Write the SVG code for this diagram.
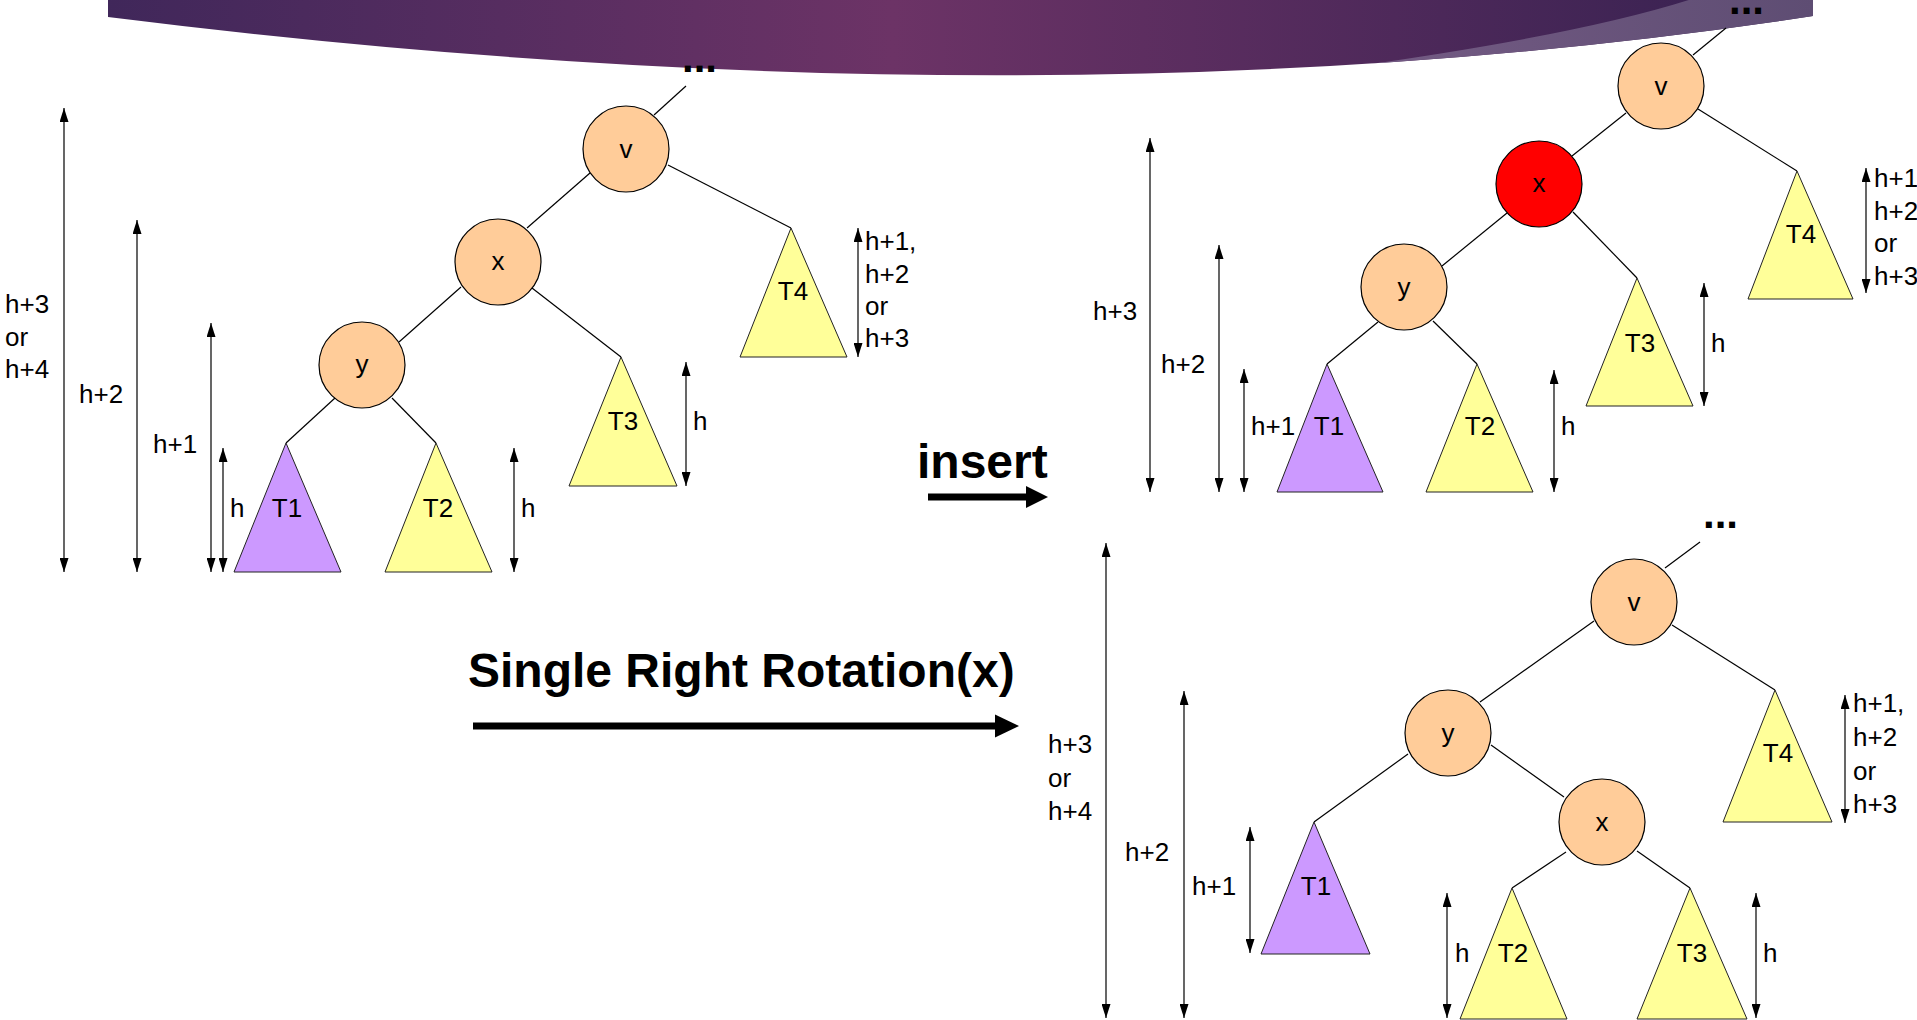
<svg xmlns="http://www.w3.org/2000/svg" width="1917" height="1020" viewBox="0 0 1917 1020">
<defs>
<linearGradient id="bandG" gradientUnits="userSpaceOnUse" x1="108" y1="0" x2="1813" y2="0">
<stop offset="0" stop-color="#40275A"/>
<stop offset="0.46" stop-color="#6C3366"/>
<stop offset="0.93" stop-color="#3C2353"/>
<stop offset="1" stop-color="#3C2353"/>
</linearGradient>
<linearGradient id="lightG" gradientUnits="userSpaceOnUse" x1="1370" y1="0" x2="1813" y2="0">
<stop offset="0" stop-color="#745B84"/>
<stop offset="1" stop-color="#5E4D73"/>
</linearGradient>
<clipPath id="bandClip"><path d="M108,0 L108,17 Q1040,134 1813,16 L1813,0 Z"/></clipPath>
<marker id="ah" viewBox="0 0 14 9" refX="14" refY="4.5" markerWidth="14" markerHeight="9" markerUnits="userSpaceOnUse" orient="auto-start-reverse"><path d="M0,0 L14,4.5 L0,9 Z" fill="#000"/></marker>
</defs>
<style>
.lbl{font-family:"Liberation Sans",Arial,sans-serif;font-size:26px;fill:#000}
.mid{text-anchor:middle}
.big{font-family:"Liberation Sans",Arial,sans-serif;font-size:48px;font-weight:bold;fill:#000}
.dots{font-family:"Liberation Sans",Arial,sans-serif;font-size:42px;font-weight:bold;fill:#000}
.edge{stroke:#000;stroke-width:1.2;fill:none}
.dim{stroke:#000;stroke-width:1.2;fill:none;marker-start:url(#ah);marker-end:url(#ah)}
.node{fill:#FFCC99;stroke:#000;stroke-width:1.2}
.red{fill:#FF0000;stroke:#000;stroke-width:1.2}
.tri{fill:#FFFF99;stroke:#222;stroke-width:1}
.triP{fill:#CC99FF;stroke:#222;stroke-width:1}
</style>

<g id="banner">
<path d="M108,0 L108,17 Q1040,134 1813,16 L1813,0 Z" fill="url(#bandG)"/>
<path clip-path="url(#bandClip)" d="M1250,80 Q1560,42 1695,-2 L1830,-2 L1830,90 Z" fill="url(#lightG)"/>
</g>

<g id="connectors">
<!-- left tree -->
<line class="edge" x1="686" y1="86" x2="654" y2="115"/>
<line class="edge" x1="590" y1="173" x2="527" y2="228"/>
<line class="edge" x1="668" y1="165" x2="791" y2="228"/>
<line class="edge" x1="532" y1="288" x2="621" y2="357"/>
<line class="edge" x1="461" y1="287" x2="399" y2="342"/>
<line class="edge" x1="335" y1="398" x2="286" y2="443"/>
<line class="edge" x1="392" y1="398" x2="436" y2="443"/>
<!-- top right tree -->
<line class="edge" x1="1726" y1="28" x2="1693" y2="55"/>
<line class="edge" x1="1626" y1="113" x2="1572" y2="156"/>
<line class="edge" x1="1698" y1="109" x2="1797" y2="171"/>
<line class="edge" x1="1507" y1="213" x2="1442" y2="266"/>
<line class="edge" x1="1573" y1="212" x2="1637" y2="278"/>
<line class="edge" x1="1378" y1="322" x2="1327" y2="364"/>
<line class="edge" x1="1433" y1="321" x2="1477" y2="364"/>
<!-- bottom right tree -->
<line class="edge" x1="1700" y1="542" x2="1665" y2="568"/>
<line class="edge" x1="1594" y1="621" x2="1480" y2="702"/>
<line class="edge" x1="1672" y1="625" x2="1775" y2="690"/>
<line class="edge" x1="1408" y1="754" x2="1314" y2="822"/>
<line class="edge" x1="1491" y1="745" x2="1564" y2="797"/>
<line class="edge" x1="1566" y1="852" x2="1512" y2="888"/>
<line class="edge" x1="1637" y1="851" x2="1690" y2="888"/>
</g>

<g id="dimensions">
<!-- left -->
<line class="dim" x1="64" y1="108" x2="64" y2="572"/>
<line class="dim" x1="137" y1="220" x2="137" y2="572"/>
<line class="dim" x1="211" y1="323" x2="211" y2="572"/>
<line class="dim" x1="223" y1="448" x2="223" y2="572"/>
<line class="dim" x1="514" y1="448" x2="514" y2="572"/>
<line class="dim" x1="686" y1="362" x2="686" y2="486"/>
<line class="dim" x1="858" y1="228" x2="858" y2="357"/>
<!-- top right -->
<line class="dim" x1="1150" y1="138" x2="1150" y2="492"/>
<line class="dim" x1="1219" y1="245" x2="1219" y2="492"/>
<line class="dim" x1="1244" y1="369" x2="1244" y2="492"/>
<line class="dim" x1="1554" y1="370" x2="1554" y2="492"/>
<line class="dim" x1="1704" y1="283" x2="1704" y2="406"/>
<line class="dim" x1="1866" y1="168" x2="1866" y2="293"/>
<!-- bottom right -->
<line class="dim" x1="1106" y1="543" x2="1106" y2="1018"/>
<line class="dim" x1="1184" y1="691" x2="1184" y2="1018"/>
<line class="dim" x1="1250" y1="827" x2="1250" y2="953"/>
<line class="dim" x1="1447" y1="893" x2="1447" y2="1018"/>
<line class="dim" x1="1756" y1="893" x2="1756" y2="1018"/>
<line class="dim" x1="1845" y1="695" x2="1845" y2="823"/>
</g>

<!-- left tree nodes -->
<g id="L-dots"><text class="dots" x="682" y="72">...</text></g>
<g id="L-v"><circle class="node" cx="626" cy="149" r="43"/><text class="lbl mid" x="626" y="158">v</text></g>
<g id="L-x"><circle class="node" cx="498" cy="262" r="43"/><text class="lbl mid" x="498" y="270">x</text></g>
<g id="L-y"><circle class="node" cx="362" cy="365" r="43"/><text class="lbl mid" x="362" y="373">y</text></g>
<g id="L-T1"><polygon class="triP" points="286,443 234,572 341,572"/><text class="lbl mid" x="287" y="517">T1</text></g>
<g id="L-T2"><polygon class="tri" points="436,443 385,572 492,572"/><text class="lbl mid" x="438" y="517">T2</text></g>
<g id="L-T3"><polygon class="tri" points="621,357 569,486 677,486"/><text class="lbl mid" x="623" y="430">T3</text></g>
<g id="L-T4"><polygon class="tri" points="791,228 740,357 847,357"/><text class="lbl mid" x="793" y="300">T4</text></g>
<g id="L-labels">
<text class="lbl" x="5" y="313">h+3</text><text class="lbl" x="5" y="346">or</text><text class="lbl" x="5" y="378">h+4</text>
<text class="lbl" x="79" y="403">h+2</text>
<text class="lbl" x="153" y="453">h+1</text>
<text class="lbl" x="230" y="517">h</text>
<text class="lbl" x="521" y="517">h</text>
<text class="lbl" x="693" y="430">h</text>
<text class="lbl" x="865" y="250">h+1,</text><text class="lbl" x="865" y="283">h+2</text><text class="lbl" x="865" y="315">or</text><text class="lbl" x="865" y="347">h+3</text>
</g>

<!-- top right tree nodes -->
<g id="R1-dots"><text class="dots" x="1729" y="14">...</text></g>
<g id="R1-v"><circle class="node" cx="1661" cy="86" r="43"/><text class="lbl mid" x="1661" y="95">v</text></g>
<g id="R1-x"><circle class="red" cx="1539" cy="184" r="43"/><text class="lbl mid" x="1539" y="192">x</text></g>
<g id="R1-y"><circle class="node" cx="1404" cy="287" r="43"/><text class="lbl mid" x="1404" y="296">y</text></g>
<g id="R1-T1"><polygon class="triP" points="1327,364 1277,492 1383,492"/><text class="lbl mid" x="1329" y="435">T1</text></g>
<g id="R1-T2"><polygon class="tri" points="1477,364 1426,492 1533,492"/><text class="lbl mid" x="1480" y="435">T2</text></g>
<g id="R1-T3"><polygon class="tri" points="1637,278 1586,406 1693,406"/><text class="lbl mid" x="1640" y="352">T3</text></g>
<g id="R1-T4"><polygon class="tri" points="1797,171 1748,299 1853,299"/><text class="lbl mid" x="1801" y="243">T4</text></g>
<g id="R1-labels">
<text class="lbl" x="1093" y="320">h+3</text>
<text class="lbl" x="1161" y="373">h+2</text>
<text class="lbl" x="1251" y="435">h+1</text>
<text class="lbl" x="1561" y="435">h</text>
<text class="lbl" x="1711" y="352">h</text>
<text class="lbl" x="1874" y="187">h+1,</text><text class="lbl" x="1874" y="220">h+2</text><text class="lbl" x="1874" y="252">or</text><text class="lbl" x="1874" y="285">h+3</text>
</g>

<!-- bottom right tree nodes -->
<g id="R2-dots"><text class="dots" x="1703" y="528">...</text></g>
<g id="R2-v"><circle class="node" cx="1634" cy="602" r="43"/><text class="lbl mid" x="1634" y="611">v</text></g>
<g id="R2-y"><circle class="node" cx="1448" cy="733" r="43"/><text class="lbl mid" x="1448" y="742">y</text></g>
<g id="R2-x"><circle class="node" cx="1602" cy="822" r="43"/><text class="lbl mid" x="1602" y="831">x</text></g>
<g id="R2-T1"><polygon class="triP" points="1314,822 1261,954 1370,954"/><text class="lbl mid" x="1316" y="895">T1</text></g>
<g id="R2-T2"><polygon class="tri" points="1512,888 1460,1019 1567,1019"/><text class="lbl mid" x="1513" y="962">T2</text></g>
<g id="R2-T3"><polygon class="tri" points="1690,888 1637,1019 1747,1019"/><text class="lbl mid" x="1692" y="962">T3</text></g>
<g id="R2-T4"><polygon class="tri" points="1775,690 1723,822 1832,822"/><text class="lbl mid" x="1778" y="762">T4</text></g>
<g id="R2-labels">
<text class="lbl" x="1048" y="753">h+3</text><text class="lbl" x="1048" y="787">or</text><text class="lbl" x="1048" y="820">h+4</text>
<text class="lbl" x="1125" y="861">h+2</text>
<text class="lbl" x="1192" y="895">h+1</text>
<text class="lbl" x="1455" y="962">h</text>
<text class="lbl" x="1763" y="962">h</text>
<text class="lbl" x="1853" y="712">h+1,</text><text class="lbl" x="1853" y="746">h+2</text><text class="lbl" x="1853" y="780">or</text><text class="lbl" x="1853" y="813">h+3</text>
</g>

<g id="insert-arrow">
<text class="big" x="917" y="478">insert</text>
<line x1="928" y1="497" x2="1028" y2="497" stroke="#000" stroke-width="7"/>
<polygon points="1026,486 1048,497 1026,508" fill="#000"/>
</g>
<g id="rotation-arrow">
<text class="big" x="468" y="687">Single Right Rotation(x)</text>
<line x1="473" y1="726" x2="997" y2="726" stroke="#000" stroke-width="7"/>
<polygon points="995,714.5 1019,726 995,737.5" fill="#000"/>
</g>
</svg>
